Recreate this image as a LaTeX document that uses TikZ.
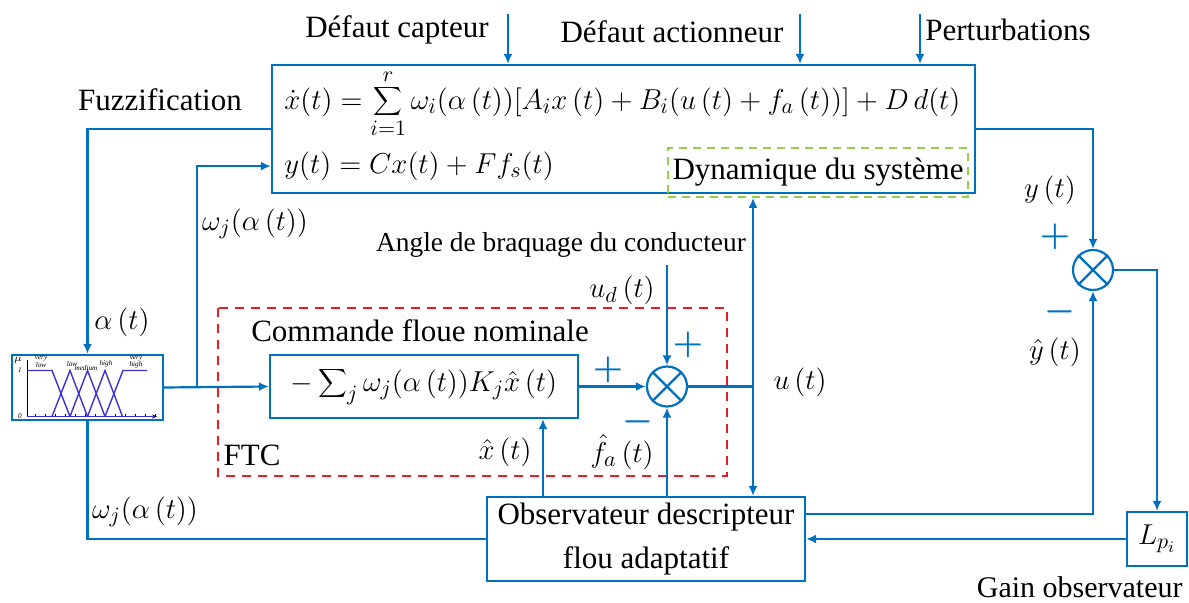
\documentclass[tikz,border=0pt]{standalone}
\usepackage[no-math]{fontspec}
\setmainfont{Liberation Serif}
\newfontfamily\tnr{Liberation Serif}
\usetikzlibrary{arrows.meta,calc}
\definecolor{bl}{RGB}{0,112,192}
\definecolor{rd}{RGB}{230,30,40}
\definecolor{gr}{RGB}{146,208,80}
\definecolor{mf}{RGB}{60,50,210}
\tikzset{
  ln/.style={draw=bl,line width=1.1pt},
  arr/.style={ln,-{Latex[length=5pt,width=4.5pt]}},
  blk/.style={draw=bl,line width=1.1pt,fill=white,inner sep=0pt},
  sumc/.style={circle,draw=bl,line width=1.1pt,minimum size=20pt,inner sep=0pt},
  lbl/.style={font=\tnr\fontsize{15.5}{18}\selectfont,inner sep=0pt},
  sgn/.style={text=bl,font=\fontsize{16}{16}\selectfont\boldmath,inner sep=0pt},
  tiny/.style={font=\tnr\fontsize{3.6}{3.8}\selectfont\itshape,inner sep=0pt,align=center}
}
\begin{document}
\begin{tikzpicture}[x=0.5pt,y=-0.5pt]
\useasboundingbox (0,0) rectangle (1189,603);
% system block
\node[blk,minimum width=351.5pt,minimum height=64pt] (sys) at (623.5,129) {};
\node[draw=gr,dashed,dash pattern=on 4pt off 3pt,line width=0.8pt,minimum width=150pt,minimum height=24.5pt,inner sep=0pt,lbl] (dyn) at (818,172.5) {Dynamique du système};
\node[lbl,anchor=west,font=\fontsize{15}{18}\selectfont] (eq1) at (284,104) {$\displaystyle \dot{x}\bigl(t\bigr)= \sum_{i=1}^{r}\omega_{i}\bigl(\alpha\left(t\right)\bigr)\Bigl[A_{i}x\left(t\right)+B_{i}\bigl(u\left(t\right)+f_{a}\left(t\right)\bigr)\Bigr]+D\,d(t)$};
\node[lbl,anchor=west] (eq2) at (284,166) {$y\bigl(t\bigr)=Cx\bigl(t\bigr)+Ff_{s}\bigl(t\bigr)$};
% input arrows
\coordinate (dc) at (508,14);
\coordinate (da) at (800,14);
\coordinate (pt) at (920,14);
\draw[arr] (dc) -- (dc |- sys.north);
\draw[arr] (da) -- (da |- sys.north);
\draw[arr] (pt) -- (pt |- sys.north);
\node[lbl] (ldc) at (397,30) {Défaut capteur};
\node[lbl] (lda) at (672,32) {Défaut actionneur};
\node[lbl,anchor=west] (lpt) at (925,30) {Perturbations};
\node[lbl] (lfz) at (160,100) {Fuzzification};
% membership function block
\node[blk,minimum width=75.5pt,minimum height=32.5pt] (msf) at (87.5,387.5) {};
\draw[black,line width=0.4pt,-{Stealth[length=2.5pt,width=2pt]}] (27,416.5) -- (157,416.5);
\draw[black,line width=0.4pt] (27,416.5) -- (27,360);
\foreach \t in {35,45,...,155}{\draw[black,line width=0.2pt] (\t,416.5) -- (\t,414.5);}
\begin{scope}[draw=mf,line width=0.7pt]
\draw[mf] (27,370.5) -- (52,370.5) -- (70,416.5);
\draw[mf] (52,416.5) -- (70,370.5) -- (87.5,416.5);
\draw[mf] (70,416.5) -- (87.5,370.5) -- (105,416.5);
\draw[mf] (87.5,416.5) -- (105,370.5) -- (122.5,416.5);
\draw[mf] (105,416.5) -- (123,370.5) -- (147,370.5);
\draw[mf] (27,416.5) -- (155,416.5);
\end{scope}
\node[tiny] (mu) at (18,360) {$\mu$};
\node[tiny] (one) at (20,370.5) {1};
\node[tiny] (zero) at (20,416.5) {0};
\node[tiny] (vl) at (41,362) {very\\low};
\node[tiny] (lo) at (72,364) {low};
\node[tiny] (me) at (86,368) {medium};
\node[tiny] (hi) at (106,364) {high};
\node[tiny] (vh) at (136,362) {very\\high};
% FTC region
\draw[rd,dashed,dash pattern=on 4.5pt off 3.5pt,line width=1.1pt] (218,308) rectangle (727,476);
\node[lbl] (ftc) at (252,455) {FTC};
\node[lbl] (cfn) at (420,331) {Commande floue nominale};
\node[blk,minimum width=154pt,minimum height=31.5pt,lbl] (cmd) at (424,386.5) {$\displaystyle -\sum\nolimits_{j}\omega_{j}\bigl(\alpha\left(t\right)\bigr)K_{j}\hat{x}\left(t\right)$};
\node[sumc] (s1) at (667,386.5) {};
\draw[ln] (s1.45) -- (s1.225);
\draw[ln] (s1.135) -- (s1.315);
% observer
\node[blk,minimum width=159pt,minimum height=42pt,lbl,align=center] (obs) at (646,539) {Observateur descripteur\\[4pt]flou adaptatif};
% gain
\node[blk,minimum width=30pt,minimum height=27pt,lbl] (L) at (1157,539) {$L_{p_{i}}$};
\node[lbl,anchor=east,font=\tnr\fontsize{15}{18}\selectfont] (gain) at (1183,587) {Gain observateur};
% comparator
\node[sumc] (s2) at (1093,270) {};
\draw[ln] (s2.45) -- (s2.225);
\draw[ln] (s2.135) -- (s2.315);
% connectors
\draw[arr] (sys.west) -| (msf.north);
\coordinate (j1) at (197,387.5);
\draw[arr] (msf.east) -- (cmd.west);
\draw[arr] (j1) |- ($(sys.south west)+(0,-28)$);
\draw[arr] (cmd.east) -- (s1.west);
\coordinate (ud) at (667,265);
\draw[arr] (ud) -- (s1.north);
\draw[arr] (s1.south |- obs.north) -- (s1.south);
\coordinate (xh) at (543,0);
\draw[arr] (obs.north -| xh) -- (cmd.south -| xh);
\coordinate (uj) at (753,386.5);
\draw[ln] (s1.east) -- (uj);
\draw[arr] (uj) -- (uj |- dyn.south);
\draw[arr] (uj) -- (uj |- obs.north);
\draw[ln] (msf.south) |- (obs.west);
\draw[arr] (sys.east) -| (s2.north);
\draw[arr] ($(obs.east)+(0,-25)$) -| (s2.south);
\draw[arr] (s2.east) -| (L.north);
\draw[arr] (L.west) -- (obs.east);
% labels
\node[lbl] (lw1) at (255,224) {$\omega_{j}\bigl(\alpha\left(t\right)\bigr)$};
\node[lbl] (la) at (122,322) {$\alpha\left(t\right)$};
\node[lbl,font=\tnr\fontsize{13.7}{16}\selectfont] (lang) at (561,245) {Angle de braquage du conducteur};
\node[lbl] (lud) at (622,290) {$u_{d}\left(t\right)$};
\node[sgn] (p1) at (688,345) {$+$};
\node[sgn] (p2) at (608,370) {$+$};
\node[sgn] (m1) at (638,422) {$-$};
\node[lbl] (lxh) at (505,452) {$\hat{x}\left(t\right)$};
\node[lbl] (lfa) at (622,452) {$\hat{f}_{a}\left(t\right)$};
\node[lbl] (lu) at (800,382) {$u\left(t\right)$};
\node[lbl] (ly) at (1050,190) {$y\left(t\right)$};
\node[sgn] (p3) at (1055,237) {$+$};
\node[sgn] (m2) at (1060,312) {$-$};
\node[lbl] (lyh) at (1055,352) {$\hat{y}\left(t\right)$};
\node[lbl] (lw2) at (145,512) {$\omega_{j}\bigl(\alpha\left(t\right)\bigr)$};
\end{tikzpicture}
\end{document}
